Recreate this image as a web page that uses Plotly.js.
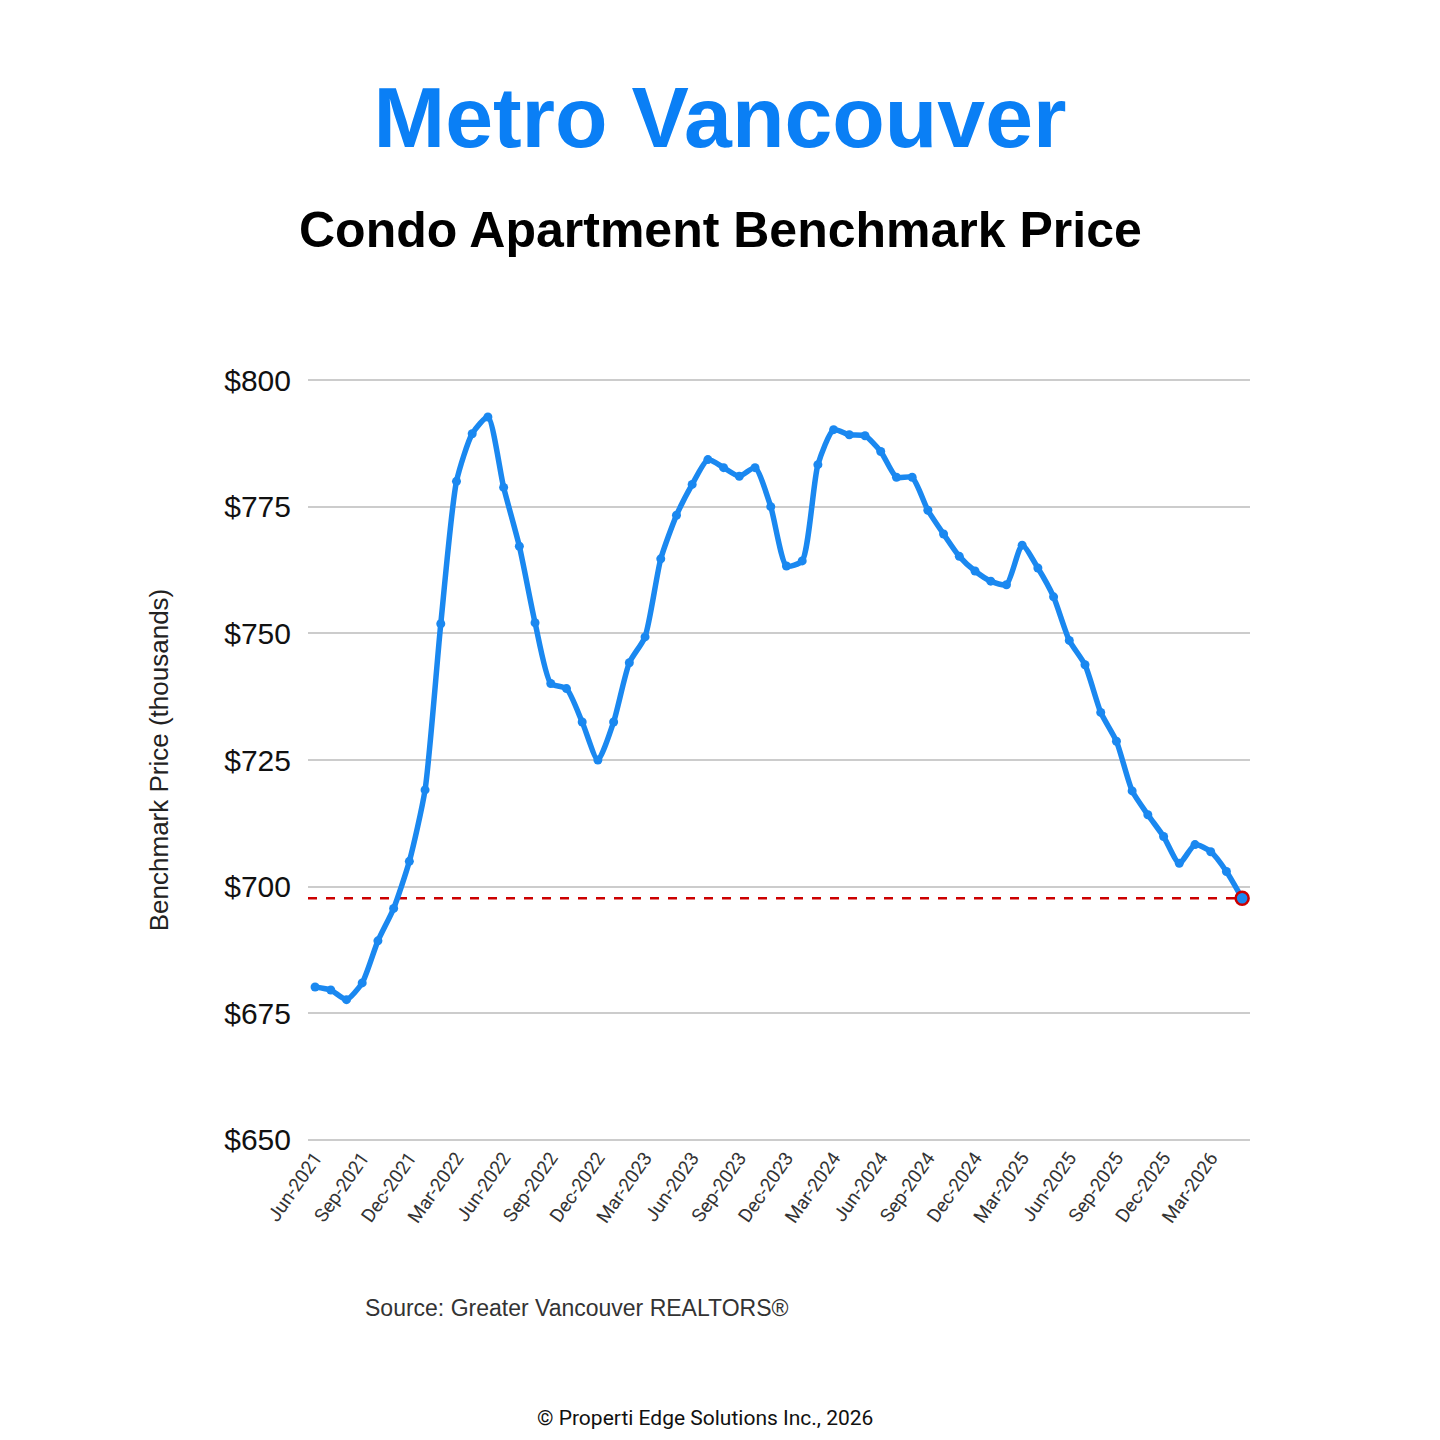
<!DOCTYPE html>
<html>
<head>
<meta charset="utf-8">
<script src="https://cdn.plot.ly/plotly-3.0.1.min.js"></script>
<style>body{margin:0;background:#fff}#chart{width:1440px;height:1440px}</style>
</head>
<body>
<div id="chart"></div>
<script>
// monthly benchmark price, thousands, Jun-2021 .. May-2026
let months = ["Jun-2021","Jul-2021","Aug-2021","Sep-2021","Oct-2021","Nov-2021","Dec-2021",
  "Jan-2022","Feb-2022","Mar-2022","Apr-2022","May-2022","Jun-2022","Jul-2022","Aug-2022","Sep-2022","Oct-2022","Nov-2022","Dec-2022",
  "Jan-2023","Feb-2023","Mar-2023","Apr-2023","May-2023","Jun-2023","Jul-2023","Aug-2023","Sep-2023","Oct-2023","Nov-2023","Dec-2023",
  "Jan-2024","Feb-2024","Mar-2024","Apr-2024","May-2024","Jun-2024","Jul-2024","Aug-2024","Sep-2024","Oct-2024","Nov-2024","Dec-2024",
  "Jan-2025","Feb-2025","Mar-2025","Apr-2025","May-2025","Jun-2025","Jul-2025","Aug-2025","Sep-2025","Oct-2025","Nov-2025","Dec-2025",
  "Jan-2026","Feb-2026","Mar-2026","Apr-2026","May-2026"]
let prices = [680.2,679.6,677.7,681.0,689.3,695.7,705.0,
  719.1,751.9,780.0,789.4,792.7,778.8,767.2,752.1,740.1,739.1,732.5,725.0,
  732.5,744.2,749.3,764.7,773.3,779.4,784.3,782.7,781.0,782.7,775.0,763.3,
  764.3,783.3,790.2,789.2,789.0,785.9,780.8,780.8,774.3,769.6,765.2,762.3,
  760.3,759.6,767.4,762.9,757.2,748.6,743.8,734.4,728.7,718.9,714.2,709.9,
  704.6,708.3,706.9,703.0,697.7]
let yTicks = [650,675,700,725,750,775,800]

let idx = months.map((m,i)=>i)
let tickIdx = idx.filter(i=>i%3==0)
let last = prices.length-1

let traces = [
  {x:[-0.45,last], y:[prices[last],prices[last]], mode:'lines', line:{color:'#cc0000',width:2.5,dash:'dash'}, hoverinfo:'skip'},
  {x:idx, y:prices, mode:'lines+markers', line:{color:'#1a88f0',width:5.5,shape:'spline',smoothing:0.6}, marker:{color:'#1a88f0',size:9}},
  {x:[last], y:[prices[last]], mode:'markers', marker:{color:'#1a88f0',size:13,line:{color:'#cc0000',width:2.5}}}
]

let plotH = 1440-378-298
let plotW = 1440-308-190
let layout = {
  width:1440, height:1440, showlegend:false,
  paper_bgcolor:'#fff', plot_bgcolor:'#fff',
  margin:{l:308, r:190, t:378, b:298},
  title:{text:'<b>Metro Vancouver</b>', x:0.5, xanchor:'center', y:1-117/1440, yanchor:'middle',
    font:{family:'Liberation Sans, Arial', size:86, color:'#0a7ff5'}},
  xaxis:{range:[-0.45,59.5], tickvals:tickIdx, ticktext:tickIdx.map(i=>months[i]), tickangle:-55,
    showgrid:false, zeroline:false, showline:false, ticks:'',
    tickfont:{family:'Roboto', size:19, color:'#333'}},
  yaxis:{range:[649.6,800.4], tickvals:yTicks, ticktext:yTicks.map(v=>'$'+v), showgrid:true,
    gridcolor:'#cccccc', gridwidth:2, zeroline:false, ticks:'', ticklabelstandoff:16,
    tickfont:{family:'Liberation Sans, Arial', size:30, color:'#111'},
    title:{text:'Benchmark Price (thousands)', standoff:48, font:{family:'Liberation Sans, Arial', size:26, color:'#222'}}},
  annotations:[
    {text:'<b>Condo Apartment Benchmark Price</b>', xref:'paper', yref:'paper', x:(720-308)/plotW, y:(1440-298-230)/plotH, xanchor:'center', yanchor:'middle',
      showarrow:false, font:{family:'Liberation Sans, Arial', size:50, color:'#000'}},
    {text:'Source: Greater Vancouver REALTORS®', xref:'paper', yref:'paper', x:(363-308)/plotW, y:(1440-298-1308)/plotH, xanchor:'left', yanchor:'middle',
      showarrow:false, font:{family:'Liberation Sans, Arial', size:23, color:'#333'}},
    {text:'© Properti Edge Solutions Inc., 2026', xref:'paper', yref:'paper', x:(705-308)/plotW, y:(1440-298-1418)/plotH, xanchor:'center', yanchor:'middle',
      showarrow:false, font:{family:'Roboto', size:21, color:'#111'}}
  ]
}

Plotly.newPlot('chart', traces, layout, {staticPlot:true})
</script>
</body>
</html>
